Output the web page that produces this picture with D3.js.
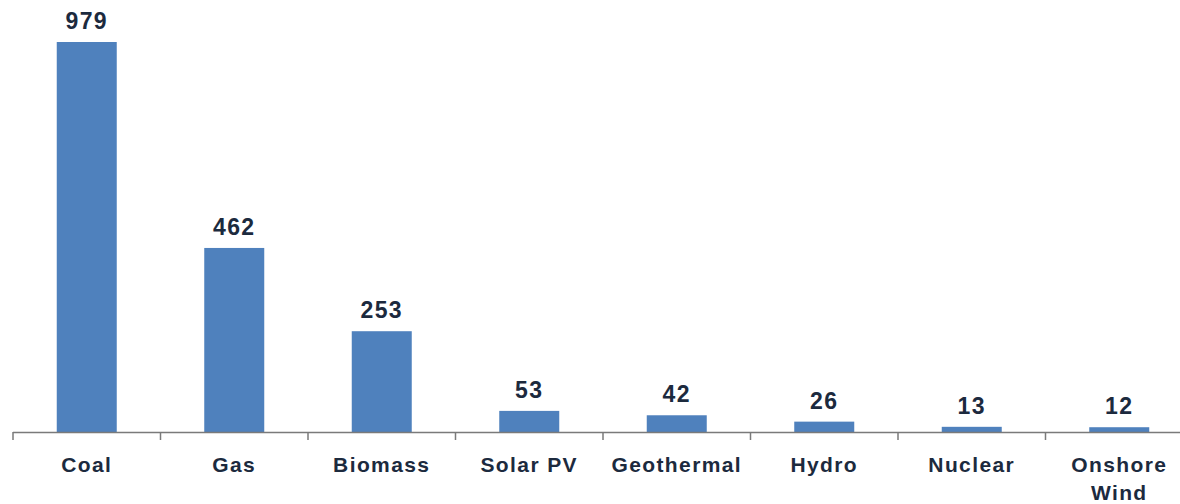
<!DOCTYPE html>
<html>
<head>
<meta charset="utf-8">
<script src="https://cdn.jsdelivr.net/npm/d3@7"></script>
<style>
  html, body { margin: 0; padding: 0; background: #ffffff; }
  svg { display: block; }
</style>
</head>
<body>
<svg id="chart" width="1180" height="504"></svg>
<script>
// Lifecycle emissions by generation source
const categories = ["Coal", "Gas", "Biomass", "Solar PV", "Geothermal", "Hydro", "Nuclear", "Onshore Wind"];
const values = [979, 462, 253, 53, 42, 26, 13, 12];

const svg = d3.select("#chart");
const W = 1180, H = 504;
const axisY = 432;
const left = 13, right = 1193;

const x = d3.scaleBand().domain(categories).range([left, right]).paddingInner(0).paddingOuter(0);
const y = d3.scaleLinear().domain([0, 979]).range([axisY, 42]);

const barFrac = 60 / 147.5;
const barW = x.bandwidth() * barFrac;

const data = categories.map((c, i) => ({ cat: c, val: values[i] }));

// bars
svg.append("g").selectAll("rect").data(data).join("rect")
  .attr("x", d => x(d.cat) + (x.bandwidth() - barW) / 2)
  .attr("y", d => y(d.val))
  .attr("width", barW)
  .attr("height", d => axisY - y(d.val))
  .attr("fill", "#4f81bd");

// category axis: baseline with tick marks at slot boundaries
const axisG = svg.append("g");
axisG.append("line")
  .attr("x1", left).attr("x2", W)
  .attr("y1", axisY + 0.5).attr("y2", axisY + 0.5)
  .attr("stroke", "#7a7a7a").attr("stroke-width", 1.5);
const bounds = categories.map(c => x(c)).concat([right]);
axisG.selectAll("line.tick").data(bounds).join("line")
  .attr("class", "tick")
  .attr("x1", d => d).attr("x2", d => d)
  .attr("y1", axisY).attr("y2", axisY + 8)
  .attr("stroke", "#7a7a7a").attr("stroke-width", 1.5);

// category labels (wrapped on spaces for the long one)
const labG = svg.append("g")
  .attr("font-family", "'Liberation Sans', Arial, sans-serif")
  .attr("font-weight", "bold")
  .attr("font-size", 21)
  .attr("letter-spacing", 1.4)
  .attr("fill", "#1c2a3e")
  .attr("text-anchor", "middle");
data.forEach(d => {
  const words = d.cat === "Onshore Wind" ? ["Onshore", "Wind"] : [d.cat];
  const t = labG.append("text")
    .attr("x", x(d.cat) + x.bandwidth() / 2)
    .attr("y", 472);
  words.forEach((w, i) => {
    t.append("tspan")
      .attr("x", x(d.cat) + x.bandwidth() / 2)
      .attr("dy", i === 0 ? 0 : 28)
      .text(w);
  });
});

// value labels
svg.append("g")
  .attr("font-family", "'Liberation Sans', Arial, sans-serif")
  .attr("font-weight", "bold")
  .attr("font-size", 23)
  .attr("letter-spacing", 1.4)
  .attr("fill", "#1c2a3e")
  .attr("text-anchor", "middle")
  .selectAll("text").data(data).join("text")
  .attr("x", d => x(d.cat) + x.bandwidth() / 2)
  .attr("y", d => y(d.val) - 13)
  .text(d => d.val);
</script>
</body>
</html>
